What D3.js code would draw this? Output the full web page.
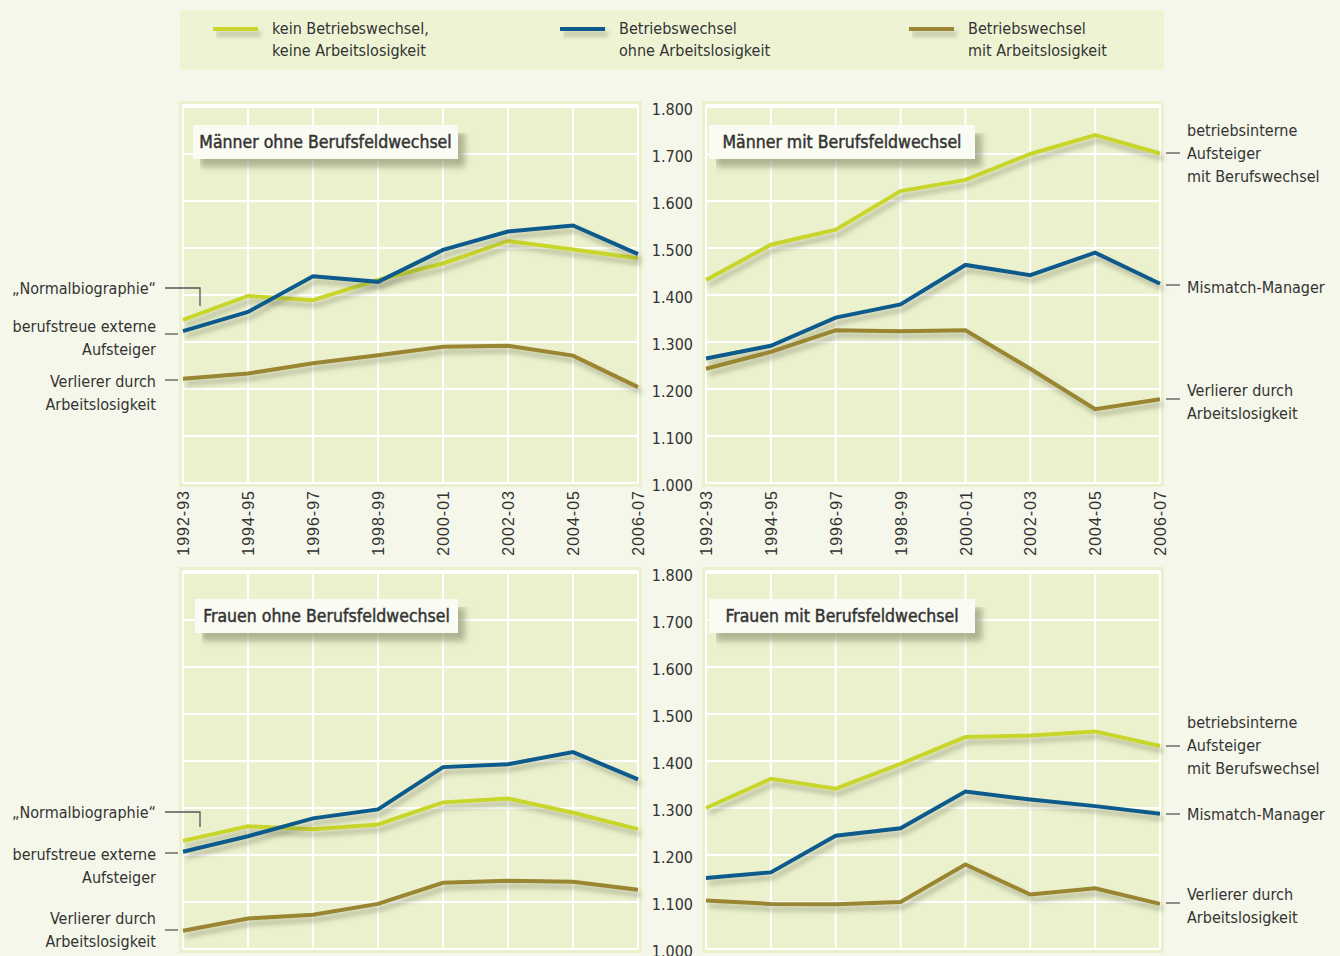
<!DOCTYPE html>
<html>
<head>
<meta charset="utf-8">
<script src="https://cdn.jsdelivr.net/npm/d3@7"></script>
<style>
  body { margin: 0; background: #f5f7ea; }
  text { fill: #333; }
</style>
</head>
<body>
<div id="chart"></div>
<script>
// time periods on the x axis
const periods = ['1992-93', '1994-95', '1996-97', '1998-99', '2000-01', '2002-03', '2004-05', '2006-07']
const yTicks = [1000, 1100, 1200, 1300, 1400, 1500, 1600, 1700, 1800]

const seriesNames = [
  ['kein Betriebswechsel,', 'keine Arbeitslosigkeit'],
  ['Betriebswechsel', 'ohne Arbeitslosigkeit'],
  ['Betriebswechsel', 'mit Arbeitslosigkeit']
]
const colors = ['#c8d52c', '#0b5a8d', '#998530']

// Männer ohne Berufsfeldwechsel
const mOhneKein = [1347, 1398, 1389, 1432, 1467, 1515, 1497, 1478]
const mOhneOhneAL = [1323, 1364, 1440, 1428, 1496, 1535, 1548, 1487]
const mOhneMitAL = [1222, 1233, 1255, 1272, 1290, 1292, 1271, 1204]

// Männer mit Berufsfeldwechsel
const mMitKein = [1432, 1507, 1539, 1621, 1645, 1700, 1740, 1701]
const mMitOhneAL = [1265, 1292, 1352, 1380, 1464, 1442, 1490, 1424]
const mMitMitAL = [1243, 1279, 1325, 1323, 1325, 1243, 1157, 1178]

// Frauen ohne Berufsfeldwechsel
const fOhneKein = [1230, 1261, 1255, 1265, 1312, 1320, 1290, 1255]
const fOhneOhneAL = [1207, 1240, 1278, 1297, 1387, 1393, 1419, 1361]
const fOhneMitAL = [1039, 1065, 1073, 1096, 1141, 1145, 1143, 1126]

// Frauen mit Berufsfeldwechsel
const fMitKein = [1300, 1362, 1341, 1394, 1451, 1454, 1463, 1432]
const fMitOhneAL = [1151, 1163, 1241, 1257, 1335, 1318, 1304, 1288]
const fMitMitAL = [1103, 1096, 1095, 1100, 1180, 1116, 1129, 1096]

const panels = [
  { title: 'Männer ohne Berufsfeldwechsel', series: [mOhneKein, mOhneOhneAL, mOhneMitAL],
    x0: 183, x1: 638, yBottom: 483, yTop: 107, side: 'left', showX: true, box: [193, 125, 265] },
  { title: 'Männer mit Berufsfeldwechsel', series: [mMitKein, mMitOhneAL, mMitMitAL],
    x0: 706, x1: 1160, yBottom: 483, yTop: 107, side: 'right', showX: true, box: [709, 125, 266] },
  { title: 'Frauen ohne Berufsfeldwechsel', series: [fOhneKein, fOhneOhneAL, fOhneMitAL],
    x0: 183, x1: 638, yBottom: 949, yTop: 573, side: 'left', showX: false, box: [195, 599, 263] },
  { title: 'Frauen mit Berufsfeldwechsel', series: [fMitKein, fMitOhneAL, fMitMitAL],
    x0: 706, x1: 1160, yBottom: 949, yTop: 573, side: 'right', showX: false, box: [709, 599, 266] }
]

// annotation texts next to the panels
const leftNotes = [
  { lines: ['„Normalbiographie“'], bend: true },
  { lines: ['berufstreue externe', 'Aufsteiger'] },
  { lines: ['Verlierer durch', 'Arbeitslosigkeit'] }
]
const rightNotes = [
  { lines: ['betriebsinterne', 'Aufsteiger', 'mit Berufswechsel'] },
  { lines: ['Mismatch-Manager'] },
  { lines: ['Verlierer durch', 'Arbeitslosigkeit'] }
]
// layout of annotation rows, per panel (y of leader line, y of first text line)
const leftLayout = [
  [{ lead: 288, text: 288 }, { lead: 334, text: 326 }, { lead: 380, text: 381 }],
  null,
  [{ lead: 812, text: 812 }, { lead: 853, text: 854 }, { lead: 930, text: 918 }],
  null
]
const rightLayout = [
  null,
  [{ lead: 153, text: 130 }, { lead: 285, text: 287 }, { lead: 399, text: 390 }],
  null,
  [{ lead: 746, text: 722 }, { lead: 814, text: 814 }, { lead: 903, text: 894 }]
]

const narrow = '"Liberation Sans Narrow", "DejaVu Sans Condensed", sans-serif'
const deFormat = d3.formatLocale({ decimal: ',', thousands: '.', grouping: [3], currency: ['', '€'] }).format(',')

const svg = d3.select('#chart').append('svg')
  .attr('width', 1340).attr('height', 956)
  .style('font-family', narrow)

svg.append('rect').attr('width', 1340).attr('height', 956).attr('fill', '#f5f7ea')

const defs = svg.append('defs')
function shadow(id, blur, dx, dy, color, op) {
  const f = defs.append('filter').attr('id', id).attr('filterUnits', 'userSpaceOnUse')
    .attr('x', 0).attr('y', 0).attr('width', 1340).attr('height', 956)
  f.append('feGaussianBlur').attr('in', 'SourceAlpha').attr('stdDeviation', blur).attr('result', 'b')
  f.append('feOffset').attr('in', 'b').attr('dx', dx).attr('dy', dy).attr('result', 'o')
  f.append('feFlood').attr('flood-color', color).attr('flood-opacity', op)
  f.append('feComposite').attr('in2', 'o').attr('operator', 'in').attr('result', 's')
  const m = f.append('feMerge')
  m.append('feMergeNode').attr('in', 's')
  m.append('feMergeNode').attr('in', 'SourceGraphic')
}
shadow('lshadow', 2.5, 3, 5, '#6b6e55', 0.45)
shadow('bshadow', 3, 7, 8, '#7c8060', 0.55)

// legend
const legend = svg.append('g')
legend.append('rect').attr('x', 180).attr('y', 10).attr('width', 984).attr('height', 60).attr('fill', '#eef3d3')
const legendX = [213, 560, 909]
seriesNames.forEach((lines, i) => {
  const g = legend.append('g').attr('transform', `translate(${legendX[i]},0)`)
  g.append('line').attr('x1', 0).attr('x2', 45).attr('y1', 29).attr('y2', 29)
    .attr('stroke', colors[i]).attr('stroke-width', 4).attr('filter', 'url(#lshadow)')
  lines.forEach((t, j) => {
    g.append('text').attr('x', 59).attr('y', 28 + j * 22).attr('dy', '0.35em')
      .style('font-size', '16px').text(t)
  })
})

panels.forEach((p, pi) => {
  const x = d3.scalePoint().domain(periods).range([p.x0, p.x1])
  const y = d3.scaleLinear().domain([1000, 1800]).range([p.yBottom, p.yTop])
  const g = svg.append('g')

  // panel background
  g.append('rect').attr('x', p.x0 - 4).attr('y', p.yTop - 6)
    .attr('width', p.x1 - p.x0 + 8).attr('height', p.yBottom - p.yTop + 10)
    .attr('fill', '#ebf1cc')

  // grid
  g.append('g').selectAll('line').data(periods).join('line')
    .attr('x1', d => x(d)).attr('x2', d => x(d))
    .attr('y1', p.yTop - 2).attr('y2', p.yBottom)
    .attr('stroke', '#fff').attr('stroke-width', 2)
  g.append('g').selectAll('line').data(yTicks).join('line')
    .attr('x1', p.x0).attr('x2', p.x1)
    .attr('y1', d => y(d)).attr('y2', d => y(d))
    .attr('stroke', '#fff').attr('stroke-width', 2)
  g.append('line').attr('x1', p.x0).attr('x2', p.x1).attr('y1', p.yTop - 2).attr('y2', p.yTop - 2)
    .attr('stroke', '#fff').attr('stroke-width', 2)

  // y axis labels between panels
  if (p.side === 'right') {
    const ax = g.append('g').attr('transform', `translate(${p.x0 - 9},2)`)
      .call(d3.axisLeft(y).tickValues(yTicks).tickSize(0).tickPadding(4).tickFormat(deFormat))
    ax.select('.domain').remove()
    ax.selectAll('text').style('font-size', '16px').style('font-family', narrow).attr('fill', '#333')
  }

  // x axis labels
  if (p.showX) {
    const ax = g.append('g').attr('transform', `translate(0,${p.yBottom})`)
      .call(d3.axisBottom(x).tickSize(0).tickPadding(0))
    ax.select('.domain').remove()
    ax.selectAll('text')
      .attr('transform', 'rotate(-90)')
      .attr('x', -7).attr('y', 0).attr('dy', '0.35em')
      .attr('text-anchor', 'end')
      .style('font-family', '"Liberation Sans", Arial, sans-serif')
      .style('font-size', '16px').style('letter-spacing', '1px')
      .attr('fill', '#333')
  }

  // lines
  const line = d3.line().x((d, i) => x(periods[i])).y(d => y(d))
  p.series.forEach((s, i) => {
    g.append('path').datum(s).attr('d', line)
      .attr('fill', 'none').attr('stroke', colors[i]).attr('stroke-width', 4)
      .attr('stroke-linejoin', 'miter').attr('filter', 'url(#lshadow)')
  })

  // title box
  const [bx, by, bw] = p.box
  const tb = g.append('g').attr('transform', `translate(${bx},${by})`)
  tb.append('rect').attr('width', bw).attr('height', 34).attr('fill', '#fafbf2')
    .attr('filter', 'url(#bshadow)')
  tb.append('text').attr('x', bw / 2).attr('y', 17).attr('dy', '0.35em').attr('text-anchor', 'middle')
    .style('font-size', '17.5px').style('stroke', '#333').style('stroke-width', 0.45)
    .text(p.title)

  // annotations
  if (leftLayout[pi]) {
    leftLayout[pi].forEach((l, k) => {
      const note = leftNotes[k]
      note.lines.forEach((t, j) => {
        svg.append('text').attr('x', 156).attr('y', l.text + j * 23).attr('dy', '0.35em')
          .attr('text-anchor', 'end').style('font-size', '16px').text(t)
      })
      if (note.bend) {
        const ey = y(p.series[0][0]) - 14
        svg.append('path').attr('d', `M165,${l.lead}H200V${ey}`)
          .attr('fill', 'none').attr('stroke', '#555').attr('stroke-width', 1.3)
      } else {
        svg.append('line').attr('x1', 165).attr('x2', 178).attr('y1', l.lead).attr('y2', l.lead)
          .attr('stroke', '#555').attr('stroke-width', 1.3)
      }
    })
  }
  if (rightLayout[pi]) {
    rightLayout[pi].forEach((l, k) => {
      rightNotes[k].lines.forEach((t, j) => {
        svg.append('text').attr('x', 1187).attr('y', l.text + j * 23).attr('dy', '0.35em')
          .style('font-size', '16px').text(t)
      })
      svg.append('line').attr('x1', 1166).attr('x2', 1180).attr('y1', l.lead).attr('y2', l.lead)
        .attr('stroke', '#555').attr('stroke-width', 1.3)
    })
  }
})
</script>
</body>
</html>
